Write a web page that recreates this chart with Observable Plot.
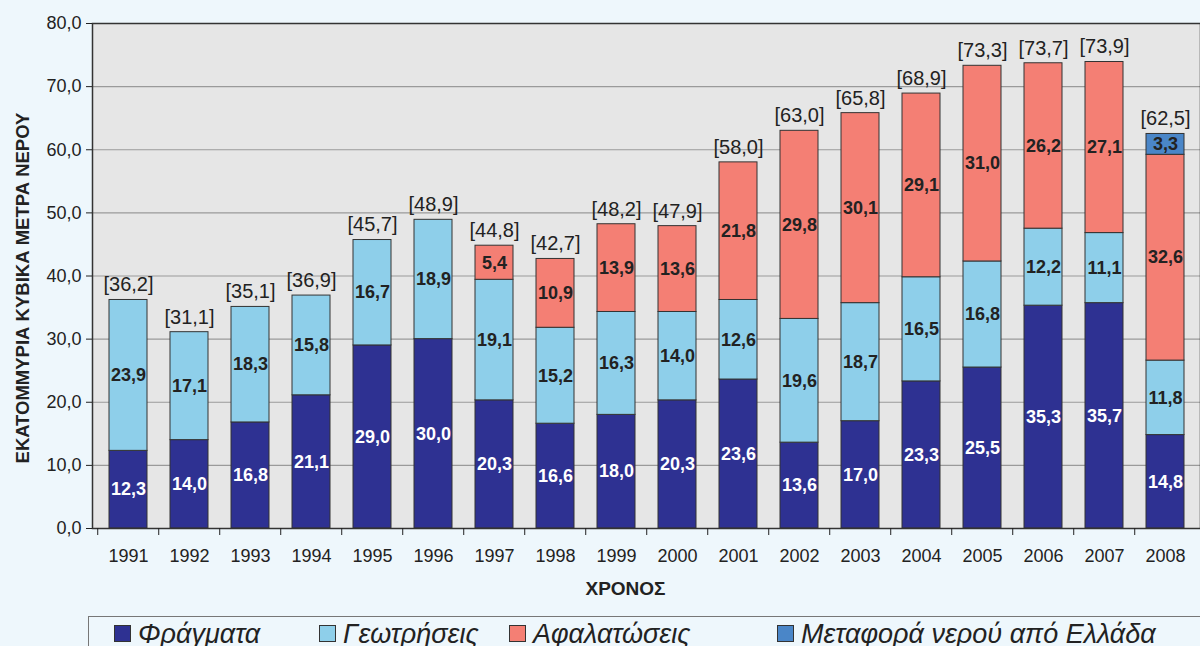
<!DOCTYPE html>
<html>
<head>
<meta charset="utf-8">
<script src="https://cdn.jsdelivr.net/npm/d3@7"></script>
<script src="https://cdn.jsdelivr.net/npm/@observablehq/plot@0.6"></script>
<style>
  html, body { margin: 0; padding: 0; background: #EEF7FC; width: 1200px; height: 646px; overflow: hidden; font-family: "Liberation Sans", Arial, sans-serif; }
  #chart { position: absolute; left: 0; top: 0; }
  #legend { position: absolute; left: 88px; top: 616px; width: 1130px; height: 50px; border: 1px solid #777; background: #EEF7FC; box-sizing: border-box; }
  .item { position: absolute; top: 3px; font-style: italic; font-size: 27px; color: #222; white-space: nowrap; line-height: 28px; }
  .sw { display: inline-block; width: 15px; height: 15px; border: 1px solid #333; margin-right: 7px; vertical-align: 1px; }
</style>
</head>
<body>
<div id="chart"></div>
<div id="legend"></div>
<script>
const years = ["1991","1992","1993","1994","1995","1996","1997","1998","1999","2000","2001","2002","2003","2004","2005","2006","2007","2008"];
const dams = [12.3,14.0,16.8,21.1,29.0,30.0,20.3,16.6,18.0,20.3,23.6,13.6,17.0,23.3,25.5,35.3,35.7,14.8];
const boreholes = [23.9,17.1,18.3,15.8,16.7,18.9,19.1,15.2,16.3,14.0,12.6,19.6,18.7,16.5,16.8,12.2,11.1,11.8];
const desalination = [0,0,0,0,0,0,5.4,10.9,13.9,13.6,21.8,29.8,30.1,29.1,31.0,26.2,27.1,32.6];
const transfer = [0,0,0,0,0,0,0,0,0,0,0,0,0,0,0,0,0,3.3];
const totals = [36.2,31.1,35.1,36.9,45.7,48.9,44.8,42.7,48.2,47.9,58.0,63.0,65.8,68.9,73.3,73.7,73.9,62.5];
const seriesNames = ["Φράγματα","Γεωτρήσεις","Αφαλατώσεις","Μεταφορά νερού από Ελλάδα"];
const seriesColors = ["#2E3192","#8ECFEA","#F47F74","#4A86C8"];
const yTicks = [0,10,20,30,40,50,60,70,80];
const yTitle = "ΕΚΑΤΟΜΜΥΡΙΑ ΚΥΒΙΚΑ ΜΕΤΡΑ ΝΕΡΟΥ";
const xTitle = "ΧΡΟΝΟΣ";

const seriesValues = [dams, boreholes, desalination, transfer];
const data = [];
years.forEach((yr, i) => {
  seriesNames.forEach((s, k) => {
    data.push({year: yr, series: s, value: seriesValues[k][i]});
  });
});
const nonZero = data.filter(d => d.value > 0);
const comma = v => v.toFixed(1).replace(".", ",");
const totalRows = years.map((yr, i) => ({year: yr, total: totals[i]}));

const W = 1200, mL = 92, mR = 0;
const step = (W - mL - mR) / years.length;

const chart = Plot.plot({
  width: W,
  height: 612,
  marginLeft: mL,
  marginRight: mR,
  marginTop: 23,
  marginBottom: 84,
  style: {background: "transparent", fontFamily: "'Liberation Sans', Arial, sans-serif", color: "#222"},
  x: {type: "band", domain: years, paddingInner: 0.38, paddingOuter: 0.19, label: null},
  y: {domain: [0, 80], label: null},
  color: {domain: seriesNames, range: seriesColors},
  marks: [
    Plot.frame({fill: "#E6E6E6"}),
    Plot.gridY(yTicks, {stroke: "#9a9a9a", strokeOpacity: 1, strokeWidth: 1.2}),
    Plot.barY(nonZero, Plot.stackY({x: "year", y: "value", fill: "series", order: seriesNames, stroke: "#333", strokeWidth: 1})),
    Plot.text(nonZero.filter(d => d.series === seriesNames[0]), Plot.stackY({x: "year", y: "value", z: "series", order: seriesNames, text: d => comma(d.value), fill: "white", fontWeight: "bold", fontSize: 18})),
    Plot.text(nonZero, Plot.stackY({x: "year", y: "value", z: "series", order: seriesNames, text: d => d.series === seriesNames[0] ? "" : comma(d.value), fill: "#222", fontWeight: "bold", fontSize: 18})),
    Plot.text(totalRows, {x: "year", y: "total", text: d => "[" + comma(d.total) + "]", dy: -15, fontSize: 20, fill: "#222"}),
    Plot.frame({stroke: "#333", strokeWidth: 1.5}),
    Plot.axisY(yTicks, {tickSize: 6, tickFormat: comma, fontSize: 18, tickPadding: 5, label: null}),
    Plot.axisX({tickSize: 7, dx: -step / 2, tickFormat: () => "", label: null}),
    Plot.axisX({tickSize: 0, tickPadding: 21, fontSize: 18, label: null}),
    Plot.text([yTitle], {frameAnchor: "left", textAnchor: "middle", rotate: -90, dx: -69, dy: 12, fontWeight: "bold", fontSize: 18.5, fill: "#222"}),
    Plot.text([xTitle], {frameAnchor: "bottom", textAnchor: "middle", dx: -21, dy: 66, fontWeight: "bold", fontSize: 19, fill: "#222"})
  ]
});
document.getElementById("chart").appendChild(chart);

const legend = document.getElementById("legend");
const lefts = [25, 230, 420, 688];
seriesNames.forEach((s, k) => {
  const it = document.createElement("div");
  it.className = "item";
  it.style.left = lefts[k] + "px";
  const sw = document.createElement("span");
  sw.className = "sw";
  sw.style.background = seriesColors[k];
  it.appendChild(sw);
  it.appendChild(document.createTextNode(s));
  legend.appendChild(it);
});
</script>
</body>
</html>
